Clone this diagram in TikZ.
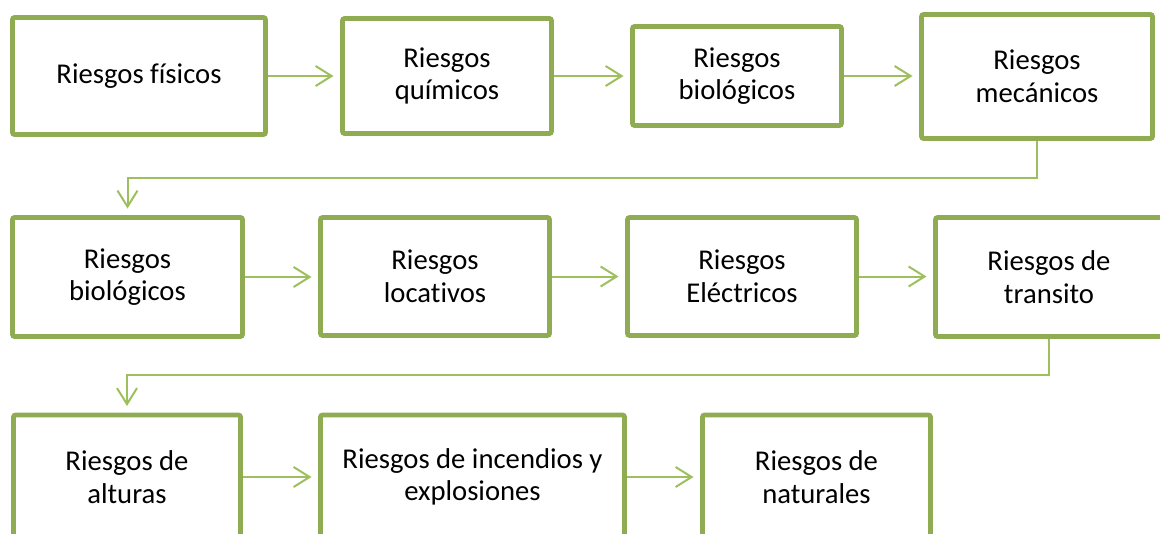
\documentclass[tikz,border=0pt]{standalone}
\usepackage{fontspec}
\setmainfont[Ligatures=NoCommon]{Carlito}
\usepackage{tikz}
\usetikzlibrary{arrows.meta,positioning,calc}

\definecolor{bordeverde}{HTML}{8FAC52}
\definecolor{lineaverde}{HTML}{9DBF5E}

\tikzset{
    caja/.style 2 args={draw=bordeverde, line width=3.5pt, rounded corners=1.5pt,
        fill=white, align=center, inner sep=0pt,
        minimum width={#1*0.75pt}, minimum height={#2*0.75pt},
        font=\fontsize{21.5pt}{24.5pt}\selectfont},
    flecha/.style={lineaverde, line width=1.5pt,
        -{Straight Barb[length=12pt,width=15pt]}, shorten >=5pt}
}

\begin{document}
\begin{tikzpicture}[x=0.75pt, y=-0.75pt]
    % Define page
    \useasboundingbox (0,0) rectangle (1160,533);

    % Draw boxes, first row
    \node[caja={253}{117}] (n1) at (139,76) {Riesgos físicos};
    \node[caja={209}{115}] (n2) at (447,76) {Riesgos\\químicos};
    \node[caja={209}{99}]  (n3) at (737,76) {Riesgos\\biológicos};
    \node[caja={231}{124}] (n4) at (1037,76.5) {Riesgos\\mecánicos};

    % Draw boxes, second row
    \node[caja={230}{119}] (n5) at (127.5,277) {Riesgos\\biológicos};
    \node[caja={229}{118}] (n6) at (435,276.5) {Riesgos\\locativos};
    \node[caja={229}{118}] (n7) at (742,276.5) {Riesgos\\Eléctricos};
    \node[caja={227}{119}] (n8) at (1049,277) {Riesgos de\\transito};

    % Draw boxes, third row (cut by the page)
    \node[caja={227}{124}] (n9)  at (127,477)   {Riesgos de\\alturas};
    \node[caja={304}{124}] (n10) at (472.5,477) {Riesgos de incendios y\\explosiones};
    \node[caja={228}{124}] (n11) at (816.5,477) {Riesgos de\\naturales};

    %Draw lines between adjacent boxes
    \foreach [remember=\actual as \previa (initially n1)] \actual in {n2,n3,n4} {
        \draw[flecha] (\previa.east) -- (\previa.east -| \actual.west);
    }
    \foreach [remember=\actual as \previa (initially n5)] \actual in {n6,n7,n8} {
        \draw[flecha] (\previa.east) -- (\previa.east -| \actual.west);
    }
    \foreach [remember=\actual as \previa (initially n9)] \actual in {n10,n11} {
        \draw[flecha] (\previa.east) -- (\previa.east -| \actual.west);
    }

    %Draw lines between rows
    \draw[flecha] (n4.south) -- ++(0,37) -| (n5.north);
    \draw[flecha] (n8.south) -- ++(0,36.5) -| (n9.north);
\end{tikzpicture}
\end{document}
